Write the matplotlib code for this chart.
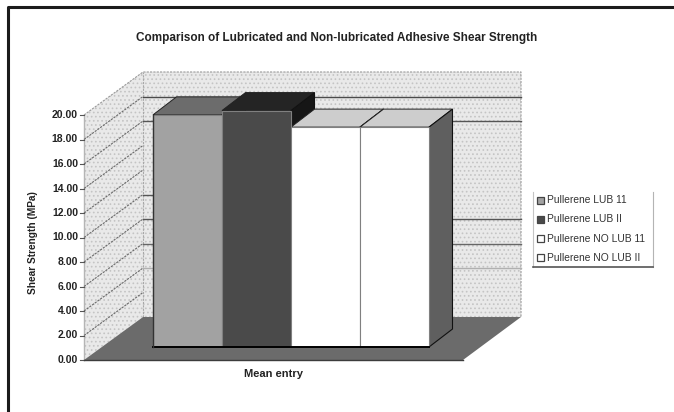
#!/usr/bin/env python3
import matplotlib
matplotlib.use('Agg')
import matplotlib.pyplot as plt
from matplotlib.patches import Polygon, Rectangle

plt.rcParams['font.family'] = ['Liberation Sans', 'DejaVu Sans']
plt.rcParams['hatch.linewidth'] = 0.7

title = 'Comparison of Lubricated and Non-lubricated Adhesive Shear Strength'
y_title = 'Shear Strength (MPa)'
x_title = 'Mean entry'
series = ['Pullerene LUB 11', 'Pullerene LUB II', 'Pullerene NO LUB 11', 'Pullerene NO LUB II']
values = [18.95, 19.3, 17.95, 17.95]
ticks = [0, 2, 4, 6, 8, 10, 12, 14, 16, 18, 20]

front = ['#a2a2a2', '#4a4a4a', '#ffffff', '#ffffff']
top = ['#6c6c6c', '#242424', '#cdcdcd', '#cdcdcd']
side = ['#6c6c6c', '#161616', '#5f5f5f', '#5f5f5f']

# x is in pixels, y is in strength units, so one px of height = 1/PER_UNIT
PER_UNIT = 12.25
FLOOR_Y = 360
H = 412


def dy(px):
    return px / PER_UNIT


DEPTH_X, DEPTH_Y = 59, dy(43)
BAR_DX, BAR_DY = 23.5, dy(18)
BAR_BASE = dy(13)
BAR_W = 69
BAR_LEFT = 153
LEFT, FRONT_RIGHT, BACK_RIGHT = 84, 463, 521

fig = plt.figure(figsize=(6.74, 4.12), dpi=100)
ax = fig.add_axes([0, 0, 1, 1])
ax.set_xlim(0, 674)
ax.set_ylim(dy(FLOOR_Y - H), dy(FLOOR_Y))
ax.axis('off')

# page frame
ax.plot([8, 8, 674], [dy(FLOOR_Y - H), dy(FLOOR_Y - 7), dy(FLOOR_Y - 7)], color='#1c1c1c', lw=2.2)

# walls
wall = dict(facecolor='#e9e9e9', edgecolor='#c4c4c4', hatch='....', lw=0, zorder=1)
back_x = LEFT + DEPTH_X
ax.add_patch(Polygon([(LEFT, 0), (LEFT, 20), (back_x, 20 + DEPTH_Y), (back_x, DEPTH_Y)], **wall))
ax.add_patch(Rectangle((back_x, DEPTH_Y), BACK_RIGHT - back_x, 20, **wall))
ax.plot([LEFT, back_x, BACK_RIGHT, BACK_RIGHT],
        [20, 20 + DEPTH_Y, 20 + DEPTH_Y, DEPTH_Y], color='#9a9a9a', lw=0.8, ls=(0, (2, 1)), zorder=2)
ax.plot([back_x, back_x], [DEPTH_Y, 20 + DEPTH_Y], color='#a8a8a8', lw=0.8, ls=(0, (2, 1)), zorder=2)
ax.plot([LEFT, LEFT], [0, 20], color='#b5b5b5', lw=1, zorder=2)

# gridlines
for t in ticks[1:-1]:
    ax.plot([LEFT, back_x], [t, t + DEPTH_Y], color='#6a6a6a', lw=0.8, ls=(0, (2, 1)), zorder=2)
for t, color in [(18, '#4a4a4a'), (16, '#555555'), (8, '#555555'), (6, '#666666'), (4, '#b0b0b0')]:
    ax.plot([back_x, BACK_RIGHT], [t + DEPTH_Y, t + DEPTH_Y], color=color, lw=1, zorder=2)
ax.plot([back_x, BAR_LEFT], [10 + DEPTH_Y, 10 + DEPTH_Y], color='#555555', lw=1, zorder=2)

# floor
ax.add_patch(Polygon([(LEFT, 0), (FRONT_RIGHT, 0), (BACK_RIGHT, DEPTH_Y), (back_x, DEPTH_Y)],
                     facecolor='#6b6b6b', edgecolor='none', zorder=3))
ax.plot([LEFT, FRONT_RIGHT], [0, 0], color='#3c3c3c', lw=1, zorder=4)

# ticks and labels
for t in ticks:
    ax.plot([LEFT - 4, LEFT], [t, t], color='#555555', lw=0.8, zorder=2)
    ax.text(78, t, f'{t:.2f}', ha='right', va='center', fontsize=7.5, fontweight='bold', color='#222222')

# bars, back faces first so each front face sits over its neighbour's side
lefts = [BAR_LEFT + BAR_W * i for i in range(len(values))]
for i, (x, v) in enumerate(zip(lefts, values)):
    y_top = BAR_BASE + v
    ax.add_patch(Polygon([(x, y_top), (x + BAR_W, y_top), (x + BAR_W + BAR_DX, y_top + BAR_DY),
                          (x + BAR_DX, y_top + BAR_DY)],
                         facecolor=top[i], edgecolor='#222222', lw=0.7, zorder=5 + i))
    ax.add_patch(Polygon([(x + BAR_W, BAR_BASE), (x + BAR_W + BAR_DX, BAR_BASE + BAR_DY),
                          (x + BAR_W + BAR_DX, y_top + BAR_DY), (x + BAR_W, y_top)],
                         facecolor=side[i], edgecolor='#111111', lw=0.8, zorder=5 + i))
    ax.bar(x, v, width=BAR_W, bottom=BAR_BASE, align='edge', color=front[i],
           edgecolor='#808080', linewidth=0.8, zorder=10 + i)
ax.plot([lefts[0], lefts[-1] + BAR_W], [BAR_BASE, BAR_BASE], color='#000000', lw=1.4, zorder=20)
ax.plot([lefts[0], lefts[0]], [BAR_BASE, BAR_BASE + values[0]], color='#333333', lw=1, zorder=20)

# titles
ax.text(337, dy(FLOOR_Y - 38), title, ha='center', va='center', fontsize=8.5, fontweight='bold', color='#222222')
ax.text(273, dy(FLOOR_Y - 374), x_title, ha='center', va='center', fontsize=8, fontweight='bold', color='#222222')
ax.text(33, dy(FLOOR_Y - 243), y_title, ha='center', va='center', rotation=90, fontsize=7.3,
        fontweight='bold', color='#222222')

# legend
ax.plot([533, 533], [dy(FLOOR_Y - 192), dy(FLOOR_Y - 267)], color='#c4c4c4', lw=0.8)
ax.plot([653, 653], [dy(FLOOR_Y - 192), dy(FLOOR_Y - 267)], color='#b4b4b4', lw=0.8)
ax.plot([533, 653], [dy(FLOOR_Y - 267), dy(FLOOR_Y - 267)], color='#555555', lw=1.2)
for i, name in enumerate(series):
    ly = FLOOR_Y - (200 + 19.3 * i)
    ax.add_patch(Rectangle((537, dy(ly - 3.5)), 7, dy(7), facecolor=front[i], edgecolor='#444444', lw=0.9))
    ax.text(547, dy(ly), name, ha='left', va='center', fontsize=7.4, color='#333333')

fig.savefig('out.png', dpi=100)
